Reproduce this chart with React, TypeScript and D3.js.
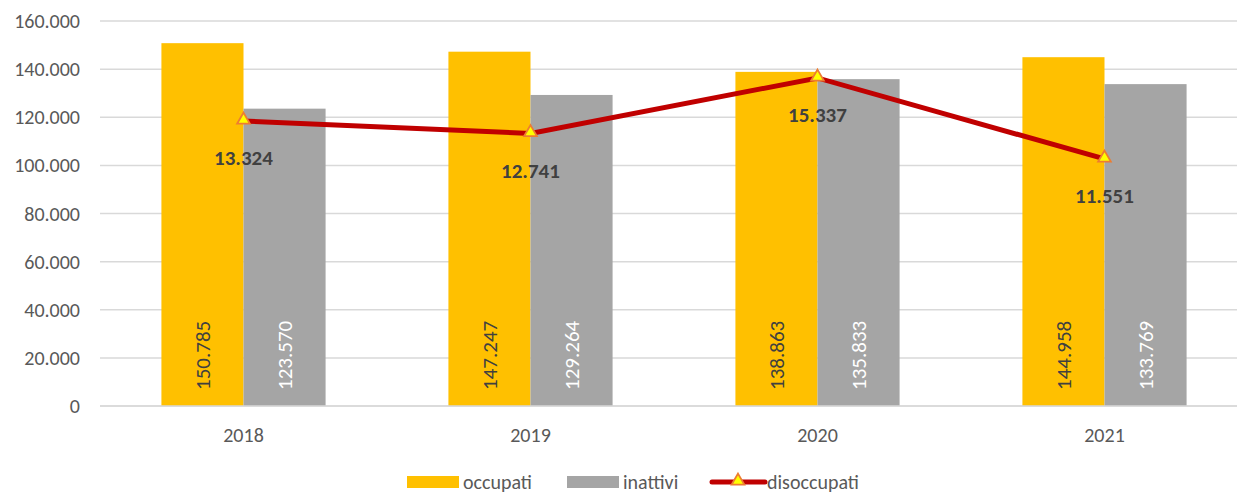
import React from "react";
import * as d3 from "d3";

const years = ["2018", "2019", "2020", "2021"];
const occupati = [150785, 147247, 138863, 144958];
const inattivi = [123570, 129264, 135833, 133769];
const disoccupati = [13324, 12741, 15337, 11551];
const yTicks = [0, 20000, 40000, 60000, 80000, 100000, 120000, 140000, 160000];

const W = 1237;
const H = 493;
const M = { top: 21, right: -11, bottom: 87, left: 100 };
const FONT = "Carlito, Lato, 'Liberation Sans', sans-serif";

const fmt = (v: number) => d3.format(",")(v).replace(/,/g, ".");

const App: React.FC = () => {
  const iW = W - M.left - M.right;
  const iH = H - M.top - M.bottom;

  const x = d3.scaleBand().domain(years).range([0, iW]);
  const y = d3.scaleLinear().domain([0, 160000]).range([iH, 0]);
  const y2 = d3.scaleLinear().domain([0, 18000]).range([iH, 0]);

  const groupW = x.bandwidth() * 0.572;
  const sub = d3.scaleBand().domain(["occ", "ina"]).range([0, groupW]);
  const gx = (yr: string) => x(yr)! + (x.bandwidth() - groupW) / 2;
  const cx = (yr: string) => x(yr)! + x.bandwidth() / 2;

  const line = d3
    .line<number>()
    .x((_, i) => cx(years[i]))
    .y((d) => y2(d));

  const tri = d3.symbol().type(d3.symbolTriangle).size(70);

  return (
    <svg width={W} height={H} style={{ position: "absolute", left: 0, top: 0, fontFamily: FONT }}>
      <g transform={`translate(${M.left},${M.top})`}>
        {yTicks.map((t) => (
          <g key={t}>
            <line x1={0} x2={iW} y1={y(t)} y2={y(t)} stroke="#d9d9d9" strokeWidth={1.5} />
            <text x={-20} y={y(t)} dy="0.35em" textAnchor="end" fontSize={20} fill="#595959">
              {fmt(t)}
            </text>
          </g>
        ))}

        {years.map((yr, i) => (
          <g key={yr}>
            <rect
              x={gx(yr) + sub("occ")!}
              y={y(occupati[i])}
              width={sub.bandwidth()}
              height={iH - y(occupati[i])}
              fill="#ffc000"
            />
            <rect
              x={gx(yr) + sub("ina")!}
              y={y(inattivi[i])}
              width={sub.bandwidth()}
              height={iH - y(inattivi[i])}
              fill="#a5a5a5"
            />
            <text
              transform={`translate(${gx(yr) + sub("occ")! + sub.bandwidth() / 2},${iH - 16}) rotate(-90)`}
              dy="0.35em"
              fontSize={21}
              fill="#404040"
            >
              {fmt(occupati[i])}
            </text>
            <text
              transform={`translate(${gx(yr) + sub("ina")! + sub.bandwidth() / 2},${iH - 16}) rotate(-90)`}
              dy="0.35em"
              fontSize={21}
              fill="#ffffff"
            >
              {fmt(inattivi[i])}
            </text>
            <text x={cx(yr)} y={iH + 29} dy="0.35em" textAnchor="middle" fontSize={20} fill="#595959">
              {yr}
            </text>
          </g>
        ))}

        <line x1={0} x2={iW} y1={iH} y2={iH} stroke="#d9d9d9" strokeWidth={1.5} />

        <path d={line(disoccupati)!} fill="none" stroke="#c00000" strokeWidth={5} />
        {disoccupati.map((v, i) => (
          <g key={i}>
            <path
              d={tri()!}
              transform={`translate(${cx(years[i])},${y2(v) - 1})`}
              fill="#ffff00"
              stroke="#ed7d31"
              strokeWidth={1.8}
            />
            <text
              x={cx(years[i])}
              y={y2(v) + 37}
              dy="0.35em"
              textAnchor="middle"
              fontSize={21}
              fontWeight="bold"
              fill="#404040"
            >
              {fmt(v)}
            </text>
          </g>
        ))}
      </g>

      <g transform="translate(0,482)">
        <rect x={407} y={-6} width={52} height={12} fill="#ffc000" />
        <text x={463} y={0} dy="0.35em" fontSize={20} fill="#595959">occupati</text>
        <rect x={567} y={-6} width={52} height={12} fill="#a5a5a5" />
        <text x={623} y={0} dy="0.35em" fontSize={20} fill="#595959">inattivi</text>
        <line x1={712} x2={765} y1={0} y2={0} stroke="#c00000" strokeWidth={5} strokeLinecap="round" />
        <path d={tri()!} transform="translate(738,-1)" fill="#ffff00" stroke="#ed7d31" strokeWidth={1.8} />
        <text x={767} y={0} dy="0.35em" fontSize={20} fill="#595959">disoccupati</text>
      </g>
    </svg>
  );
};

export default App;
